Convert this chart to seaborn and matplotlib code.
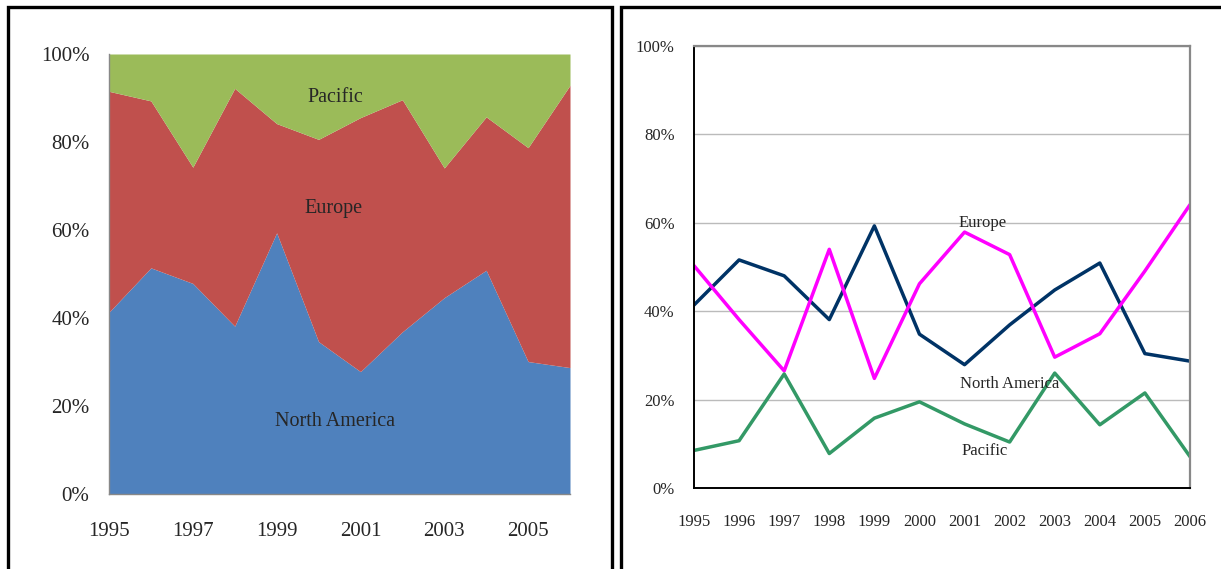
import numpy as np
import pandas as pd
import matplotlib
matplotlib.use("Agg")
import matplotlib.pyplot as plt
from matplotlib.patches import Rectangle
from matplotlib.ticker import PercentFormatter
import seaborn as sns

years = list(range(1995, 2007))
north_america = [41.4, 51.6, 48.0, 38.1, 59.3, 34.8, 27.9, 36.9, 44.8, 50.9, 30.4, 28.7]
europe = [50.3, 38.1, 26.5, 54.0, 24.8, 46.2, 57.9, 52.8, 29.6, 34.9, 49.1, 64.1]
pacific = [8.5, 10.7, 25.8, 7.8, 15.8, 19.5, 14.5, 10.4, 26.0, 14.3, 21.5, 7.1]
regions = ["North America", "Europe", "Pacific"]

sns.set_style("white")
plt.rcParams["font.family"] = ["Liberation Serif", "DejaVu Serif"]

fig = plt.figure(figsize=(12.21, 5.69), dpi=100)

# panel borders
fig.patches.append(Rectangle((8 / 1221, -0.05), (612 - 8) / 1221, 1 - 7 / 569 + 0.05,
                             transform=fig.transFigure, fill=False, edgecolor="black",
                             linewidth=2.4, zorder=0))
fig.patches.append(Rectangle((621 / 1221, -0.05), 1.0, 1 - 7 / 569 + 0.05,
                             transform=fig.transFigure, fill=False, edgecolor="black",
                             linewidth=2.4, zorder=0))

# ---------- Left: 100% stacked area ----------
axL = fig.add_axes([109 / 1221, 1 - 494 / 569, (570 - 109) / 1221, (494 - 54) / 569])
df = pd.DataFrame({"year": years, "North America": north_america,
                   "Europe": europe, "Pacific": pacific})
tot = df[regions].sum(axis=1)
shares = [df[r] / tot * 100 for r in regions]
axL.stackplot(df["year"], *shares, colors=["#4F81BD", "#C0504D", "#9BBB59"], linewidth=0)
axL.set_xlim(1995, 2006)
axL.set_ylim(0, 100)
axL.set_yticks(range(0, 101, 20))
axL.yaxis.set_major_formatter(PercentFormatter(decimals=0))
axL.set_xticks(years)
axL.set_xticklabels([str(y) if y % 2 == 1 else "" for y in years])
for s in ["top", "right"]:
    axL.spines[s].set_visible(False)
for s in ["left", "bottom"]:
    axL.spines[s].set_color("#888888")
    axL.spines[s].set_linewidth(1.0)
axL.tick_params(axis="both", which="both", length=6, color="#888888", width=1.0,
                labelsize=15, direction="out")
axL.tick_params(axis="x", pad=14)
axL.tick_params(axis="y", pad=8)
axL.text(2000.4, 90, "Pacific", ha="center", va="center", fontsize=14.5)
axL.text(2000.35, 65, "Europe", ha="center", va="center", fontsize=14.5)
axL.text(2000.4, 16.5, "North America", ha="center", va="center", fontsize=14.5)
axL.grid(False)

# ---------- Right: line chart ----------
axR = fig.add_axes([694 / 1221, 1 - 488 / 569, (1190 - 694) / 1221, (488 - 46) / 569])
long = df.melt(id_vars="year", value_vars=regions, var_name="region", value_name="share")
sns.lineplot(data=long, x="year", y="share", hue="region", hue_order=regions,
             palette={"North America": "#003366", "Europe": "#FF00FF", "Pacific": "#339966"},
             linewidth=2.5, ax=axR, legend=False)
axR.set_xlim(1995, 2006)
axR.set_ylim(0, 100)
axR.set_yticks(range(0, 101, 20))
axR.yaxis.set_major_formatter(PercentFormatter(decimals=0))
axR.set_xticks(years)
axR.set_xticklabels([str(y) for y in years])
axR.set_xlabel("")
axR.set_ylabel("")
axR.yaxis.grid(True, color="#BBBBBB", linewidth=1.0)
axR.xaxis.grid(False)
axR.set_axisbelow(True)
for s in ["top", "right"]:
    axR.spines[s].set_color("#888888")
    axR.spines[s].set_linewidth(1.6)
for s in ["left", "bottom"]:
    axR.spines[s].set_color("black")
    axR.spines[s].set_linewidth(1.4)
axR.tick_params(axis="both", length=5, color="#888888", width=1.0, labelsize=12,
                direction="out")
axR.tick_params(axis="x", pad=14)
axR.tick_params(axis="y", pad=9)
axR.text(2001.4, 60.0, "Europe", ha="center", va="center", fontsize=12)
axR.text(2002.0, 23.5, "North America", ha="center", va="center", fontsize=12)
axR.text(2001.45, 8.3, "Pacific", ha="center", va="center", fontsize=12)

fig.savefig("out.png", dpi=100)
